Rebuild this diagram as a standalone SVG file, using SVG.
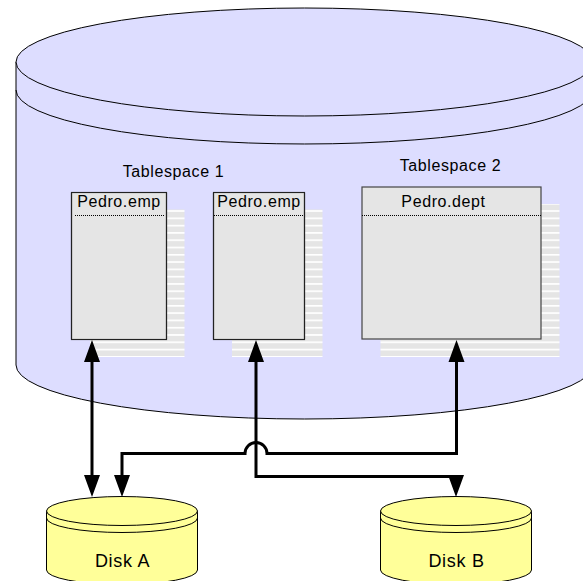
<svg xmlns="http://www.w3.org/2000/svg" width="583" height="581" viewBox="0 0 583 581">
<defs>
<style>
text{font-family:"Liberation Sans",Arial,sans-serif;fill:#000;text-anchor:middle}
.n{font-size:16px;letter-spacing:.6px}
.k{font-size:18px;letter-spacing:.7px}
.l{fill:none;stroke:#000;stroke-width:3}
.h{fill:#000}
.t{fill:#e5e5e5;stroke:#444;stroke-width:1.2}
.e{fill:none;stroke:#000;stroke-width:1.2;stroke-dasharray:1 1}
.d{fill:none;stroke:#000;stroke-width:1;stroke-dasharray:1 1}
.db{fill:#ddddff;stroke:#000}
.y{fill:#ffff99;stroke:#000}
.o{fill:none;stroke:#000}
</style>
<pattern id="st" patternUnits="userSpaceOnUse" x="0" y="210.2" width="10" height="7.29"><rect width="10" height="7.29" fill="#e5e5e5"/><rect y="0" width="10" height="1.7" fill="#fff"/></pattern>
</defs>
<g id="db">
<path d="M16 62V365A288.500 54 0 0 0 593 365V62Z" class="db"/>
<ellipse cx="304.500" cy="62" rx="288.500" ry="54" class="db"/>
<path d="M16 90A288.500 54 0 0 0 593 90" class="o"/>
</g>
<g id="ts1"><text x="173.500" y="177" class="n">Tablespace 1</text></g>
<g id="ts2"><text x="450.500" y="171" class="n">Tablespace 2</text></g>
<g id="emp1">
<rect x="90" y="209.500" width="94.500" height="147.500" fill="url(#st)"/>
<rect x="71.500" y="192.500" width="95" height="147" class="t"/>
<rect x="71.500" y="192.500" width="95" height="147" class="e"/>
<path d="M75 215.500H165" class="d"/>
<text x="119" y="207" class="n">Pedro.emp</text>
</g>
<g id="emp2">
<rect x="232" y="209.500" width="90.500" height="147.500" fill="url(#st)"/>
<rect x="213.500" y="192.500" width="91" height="147" class="t"/>
<rect x="213.500" y="192.500" width="91" height="147" class="e"/>
<path d="M214 215.500H304" class="d"/>
<text x="259" y="207" class="n">Pedro.emp</text>
</g>
<g id="dept">
<rect x="380.500" y="204" width="179" height="153" fill="url(#st)"/>
<rect x="362" y="187" width="179" height="152" class="t"/>
<path d="M362 215.500H541" class="d"/>
<text x="443.500" y="207" class="n">Pedro.dept</text>
</g>
<g id="diskA">
<path d="M46.500 511V570A75.500 14.500 0 0 0 197.500 570V511Z" class="y"/>
<ellipse cx="122" cy="511" rx="75.500" ry="14.500" class="y"/>
<path d="M46.500 518A75.500 14.500 0 0 0 197.500 518" class="o"/>
<text x="122.500" y="567" class="k">Disk A</text>
</g>
<g id="diskB">
<path d="M380.500 511V570A75.500 14.500 0 0 0 531.500 570V511Z" class="y"/>
<ellipse cx="456" cy="511" rx="75.500" ry="14.500" class="y"/>
<path d="M380.500 518A75.500 14.500 0 0 0 531.500 518" class="o"/>
<text x="456.500" y="567" class="k">Disk B</text>
</g>
<g id="connectors">
<path d="M92 345V490" class="l"/>
<path d="M92 340l-8 22h16zM92 497l-8 -22h16z" class="h"/>
<path d="M256 345V476.500H456V490" class="l"/>
<path d="M256 340l-8 22h16zM456 497l-8 -22h16z" class="h"/>
<path d="M456.500 345V453.500H267A11 11 0 0 0 245 453.500H122V490" class="l"/>
<path d="M456.500 340l-8 22h16zM122 497l-8 -22h16z" class="h"/>
</g>
</svg>
